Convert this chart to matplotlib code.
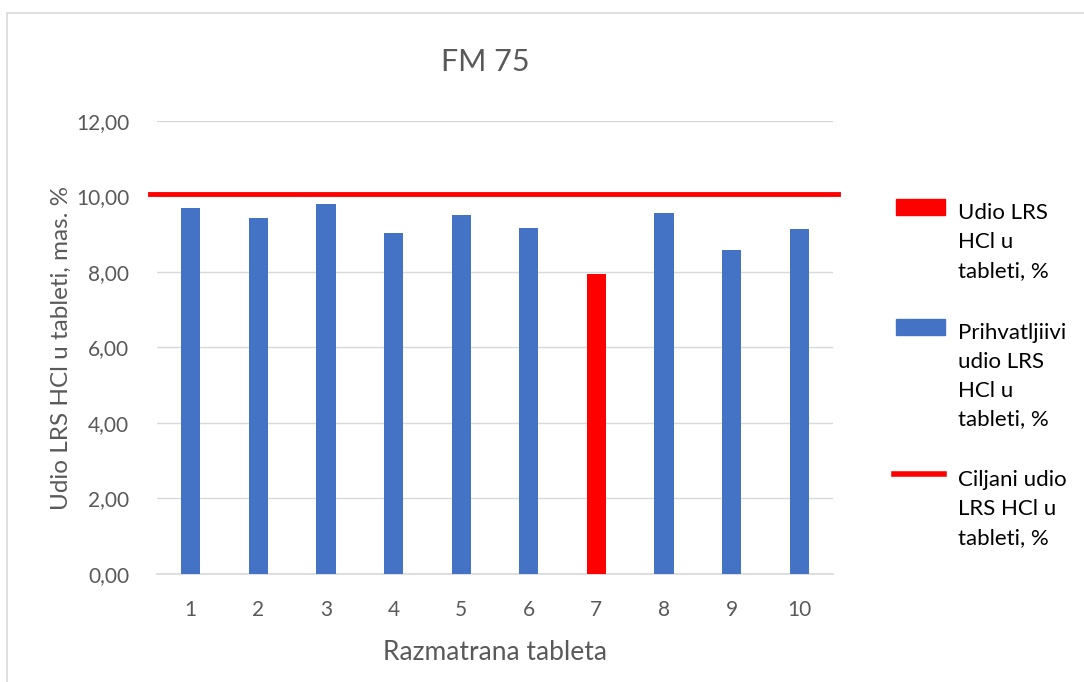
"""
FM 75: udio LRS HCl u pojedinim tabletama
"""

import matplotlib.pyplot as plt
from matplotlib.patches import Rectangle
from matplotlib.lines import Line2D

plt.rcParams['font.family'] = ['Lato', 'DejaVu Sans']

# Data
tablete = ['1', '2', '3', '4', '5', '6', '7', '8', '9', '10']
udio = [9.70, 9.43, 9.80, 9.04, 9.52, 9.17, 7.95, 9.57, 8.58, 9.14]
neprihvatljivo = [False, False, False, False, False, False, True, False, False, False]
ciljani_udio = 10.06

blue = '#4472C4'
red = '#FF0000'
gray_txt = '#595959'

fig = plt.figure(figsize=(10.84, 6.82), dpi=100)
ax = fig.add_axes([0.1448, 0.1584, 0.6237, 0.6642])

x = list(range(len(tablete)))
colors = [red if bad else blue for bad in neprihvatljivo]
ax.bar(x, udio, width=0.285, color=colors, zorder=3)
ax.axhline(ciljani_udio, color=red, linewidth=3.5, zorder=4,
           xmin=-0.01, xmax=1.007, clip_on=False)

ax.set_xlim(-0.5, len(tablete) - 0.5)
ax.set_ylim(0, 12)
ax.set_yticks([0, 2, 4, 6, 8, 10, 12])
ax.set_yticklabels([f'{v:.2f}'.replace('.', ',') for v in [0, 2, 4, 6, 8, 10, 12]])
ax.set_xticks(x)
ax.set_xticklabels(tablete)
ax.tick_params(length=0, labelsize=15, colors=gray_txt)
ax.tick_params(axis='x', pad=19)
ax.tick_params(axis='y', pad=20)
ax.grid(True, axis='y', color='#D9D9D9', linewidth=1, zorder=0)
for s in ['top', 'right', 'left']:
    ax.spines[s].set_visible(False)
ax.spines['bottom'].set_color('#D9D9D9')
ax.spines['bottom'].set_linewidth(1.2)

ax.set_xlabel('Razmatrana tableta', fontsize=19, color=gray_txt, labelpad=14)
ax.set_ylabel('Udio LRS HCl u tableti, mas. %', fontsize=17.5, color=gray_txt, labelpad=3)
ax.set_title('FM 75', fontsize=22, color=gray_txt, pad=36, x=0.486)

# Chart frame (only left and top edges visible in the crop)
fig.patches.append(Rectangle((7 / 1084, -0.1), 1.2, 1 - 13 / 682 + 0.1,
                             transform=fig.transFigure, fill=False,
                             edgecolor='#D9D9D9', linewidth=1.2))

# Legend drawn manually so the wrapped labels align to the top line
leg = [
    ('patch', red, 'Udio LRS\nHCl u\ntableti, %', 207),
    ('patch', blue, 'Prihvatljiivi\nudio LRS\nHCl u\ntableti, %', 327),
    ('line', red, 'Ciljani udio\nLRS HCl u\ntableti, %', 474),
]
for kind, col, label, ypix in leg:
    yf = 1 - ypix / 682
    if kind == 'patch':
        fig.patches.append(Rectangle((896 / 1084, yf - 8 / 682), 49 / 1084, 16 / 682,
                                     transform=fig.transFigure, color=col))
    else:
        fig.lines.append(Line2D([894 / 1084, 944 / 1084], [yf, yf],
                                transform=fig.transFigure, color=col, linewidth=4))
    fig.text(958 / 1084, yf + 4 / 682, label, fontsize=16, color='black',
             va='top', ha='left', linespacing=1.55)

fig.savefig('out.png', dpi=100, facecolor='white')
plt.close()
